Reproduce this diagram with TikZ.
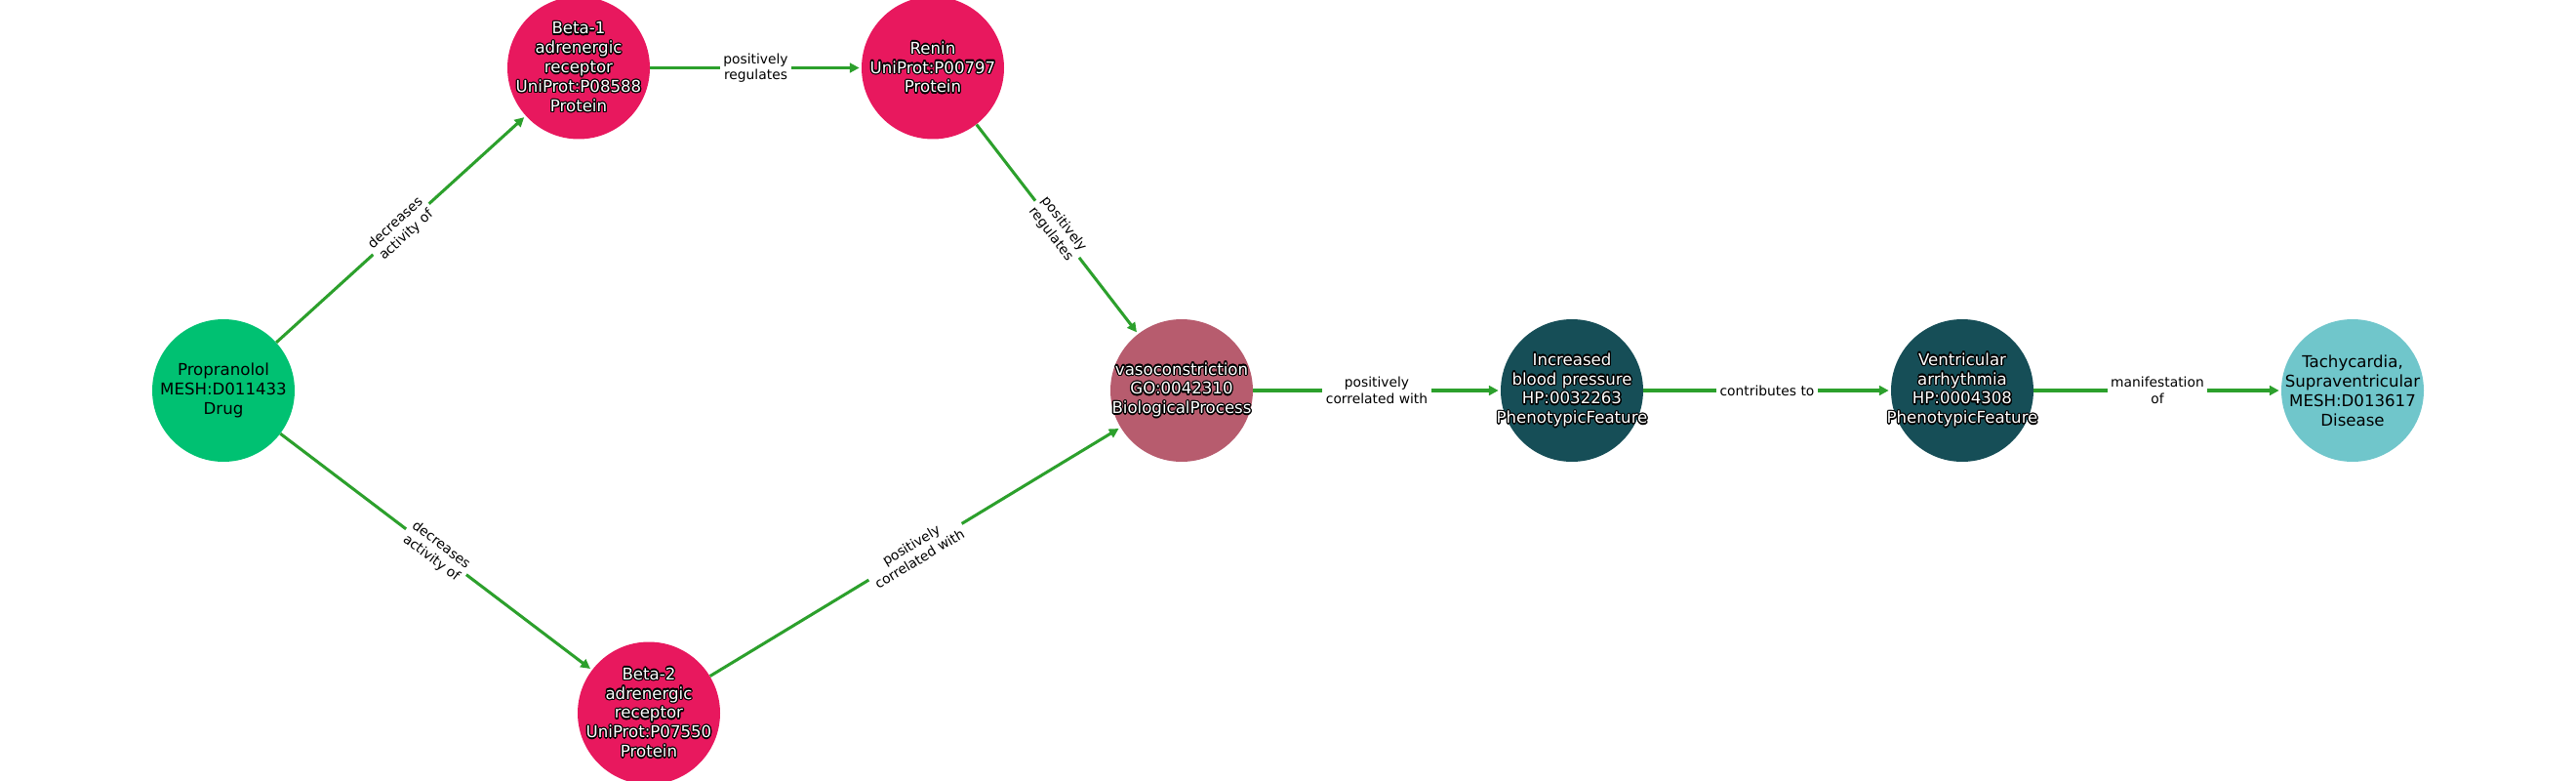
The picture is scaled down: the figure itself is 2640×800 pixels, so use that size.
\documentclass[tikz,border=0pt]{standalone}
\usepackage{fontspec}
\setmainfont{DejaVu Sans}
\usepackage[copies]{contour}
\contourlength{0.9pt}
\contournumber{12}
\usetikzlibrary{arrows.meta}
\definecolor{drugcol}{HTML}{00C172}
\definecolor{protcol}{HTML}{E8185E}
\definecolor{proccol}{HTML}{B75C6E}
\definecolor{phencol}{HTML}{164E57}
\definecolor{discol}{HTML}{70C6CB}
\definecolor{edgecol}{HTML}{2CA02C}
\def\ol#1{\contour{black}{#1}}

\begin{document}
\begin{tikzpicture}[x=0.254mm, y=-0.254mm,
	ent/.style={circle, minimum size=37.08mm, inner sep=0pt},
	enttext/.style={align=center, inner sep=0pt, font=\fontsize{12}{14.4}\selectfont},
	lighttext/.style={enttext, text=black},
	darktext/.style={enttext, text=white},
	rel/.style={-{Triangle[length=7pt,width=7pt]}, line width=2.2pt, draw=edgecol, shorten >=1.5pt},
	rellabel/.style={fill=white, inner sep=2.5pt, align=center, font=\fontsize{10}{12}\selectfont, text=black, sloped}]
			%%%%% START %%%%%
			
			\useasboundingbox (0, 0) rectangle (2640, 800);
			
			\node[ent, fill=drugcol] (propranolol) at (229, 400) {};
			\node[ent, fill=protcol] (beta1) at (593, 69.5) {};
			\node[ent, fill=protcol] (renin) at (956, 69.5) {};
			\node[ent, fill=protcol] (beta2) at (665, 730.5) {};
			\node[ent, fill=proccol] (vaso) at (1211, 400) {};
			\node[ent, fill=phencol] (bp) at (1611, 400) {};
			\node[ent, fill=phencol] (arrhythmia) at (2011, 400) {};
			\node[ent, fill=discol] (tachy) at (2411, 400) {};
			
			\node[lighttext] (propranolol-txt) at (propranolol) {Propranolol\\MESH:D011433\\Drug};
			\node[darktext] (beta1-txt) at (beta1) {\ol{Beta-1}\\\ol{adrenergic}\\\ol{receptor}\\\ol{UniProt:P08588}\\\ol{Protein}};
			\node[darktext] (renin-txt) at (renin) {\ol{Renin}\\\ol{UniProt:P00797}\\\ol{Protein}};
			\node[darktext] (beta2-txt) at (beta2) {\ol{Beta-2}\\\ol{adrenergic}\\\ol{receptor}\\\ol{UniProt:P07550}\\\ol{Protein}};
			\node[darktext] (vaso-txt) at (vaso) {\ol{vasoconstriction}\\\ol{GO:0042310}\\\ol{BiologicalProcess}};
			\node[darktext] (bp-txt) at (bp) {\ol{Increased}\\\ol{blood pressure}\\\ol{HP:0032263}\\\ol{PhenotypicFeature}};
			\node[darktext] (arrhythmia-txt) at (arrhythmia) {\ol{Ventricular}\\\ol{arrhythmia}\\\ol{HP:0004308}\\\ol{PhenotypicFeature}};
			\node[lighttext] (tachy-txt) at (tachy) {Tachycardia,\\Supraventricular\\MESH:D013617\\Disease};
			
			\draw[rel] (propranolol) -- node[rellabel] (l1) {decreases\\activity of} (beta1);
			\draw[rel] (propranolol) -- node[rellabel] (l2) {decreases\\activity of} (beta2);
			\draw[rel] (beta1) -- node[rellabel] (l3) {positively\\regulates} (renin);
			\draw[rel] (renin) -- node[rellabel] (l4) {positively\\regulates} (vaso);
			\draw[rel] (beta2) -- node[rellabel] (l5) {positively\\correlated with} (vaso);
			\draw[rel] (vaso) -- node[rellabel] (l6) {positively\\correlated with} (bp);
			\draw[rel] (bp) -- node[rellabel] (l7) {contributes to} (arrhythmia);
			\draw[rel] (arrhythmia) -- node[rellabel] (l8) {manifestation\\of} (tachy);
			
			%%%%% END %%%%%
		\end{tikzpicture}
\end{document}
